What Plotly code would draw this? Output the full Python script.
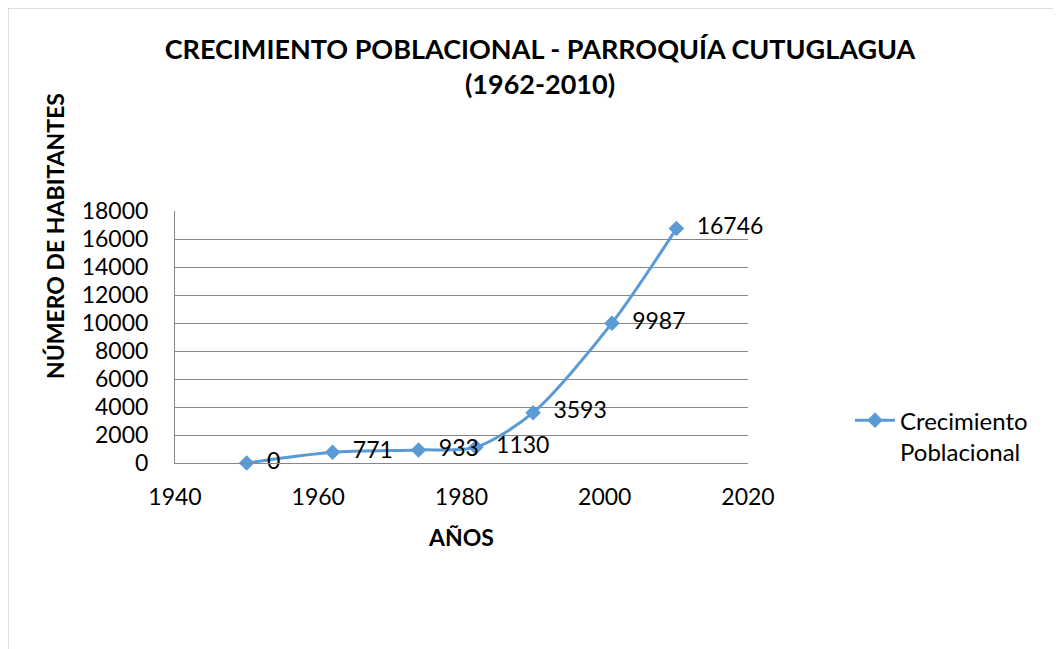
import plotly.graph_objects as go

years = [1950, 1962, 1974, 1982, 1990, 2001, 2010]
population = [0, 771, 933, 1130, 3593, 9987, 16746]
labels = ["\u00a0\u00a0" + str(v) for v in population]
x_ticks = [1940, 1960, 1980, 2000, 2020]
y_ticks = list(range(0, 18001, 2000))
y_tick_text = [str(v) for v in y_ticks]

FONT = "Lato"
BLUE = "#5B9BD5"
OFF = 8  # browser body margin

fig = go.Figure()
fig.add_trace(go.Scatter(
    x=years, y=population, mode="lines+markers+text",
    name="Crecimiento<br>Poblacional",
    line=dict(color=BLUE, width=3, shape="spline", smoothing=0.8),
    marker=dict(symbol="diamond", size=12, color=BLUE),
    text=labels, textposition="middle right",
    textfont=dict(family=FONT, size=23, color="black"),
    cliponaxis=False,
))

fig.update_layout(
    width=1061, height=649,
    margin=dict(l=175 - OFF, r=1061 - 748 + OFF, t=211 - OFF, b=649 - 463 + OFF),
    paper_bgcolor="white", plot_bgcolor="white",
    font=dict(family=FONT, size=23, color="black"),
    title=dict(text="<b>CRECIMIENTO POBLACIONAL - PARROQUÍA CUTUGLAGUA<br>(1962-2010)</b>",
               x=(540 - OFF) / 1061, xanchor="center", y=1 - (59 - OFF) / 649, yanchor="middle",
               font=dict(family=FONT, size=27, color="black")),
    showlegend=True,
    legend=dict(x=1.178, y=0.107, xanchor="left", yanchor="middle", valign="top",
                font=dict(family=FONT, size=24, color="black"),
                bgcolor="rgba(0,0,0,0)", itemwidth=40),
    xaxis=dict(range=[1940, 2020], tickvals=x_ticks, showgrid=False,
               showline=True, linecolor="#868686", linewidth=1,
               ticks="", zeroline=False, ticklabelstandoff=13,
               title=dict(text="<b>AÑOS</b>", font=dict(family=FONT, size=23), standoff=21)),
    yaxis=dict(range=[0, 18000], tickvals=y_ticks, ticktext=y_tick_text, showgrid=True,
               gridcolor="#868686", gridwidth=1,
               showline=True, linecolor="#868686", linewidth=1,
               ticks="", zeroline=False, ticklabelstandoff=21),
)

fig.add_annotation(text="<b>NÚMERO DE HABITANTES</b>", xref="paper", yref="paper",
                   x=(55 - 175) / 573, y=(463 - 236) / 252, textangle=-90,
                   showarrow=False, font=dict(family=FONT, size=23, color="black"),
                   xanchor="center", yanchor="middle")

# outer chart border
fig.add_shape(type="rect", xref="paper", yref="paper",
              x0=(8 - 175) / 573, x1=(1075 - 175) / 573,
              y0=(463 - 670) / 252, y1=(463 - 8) / 252,
              line=dict(color="#BFBFBF", width=1), layer="below")

fig.write_html("out.html")
